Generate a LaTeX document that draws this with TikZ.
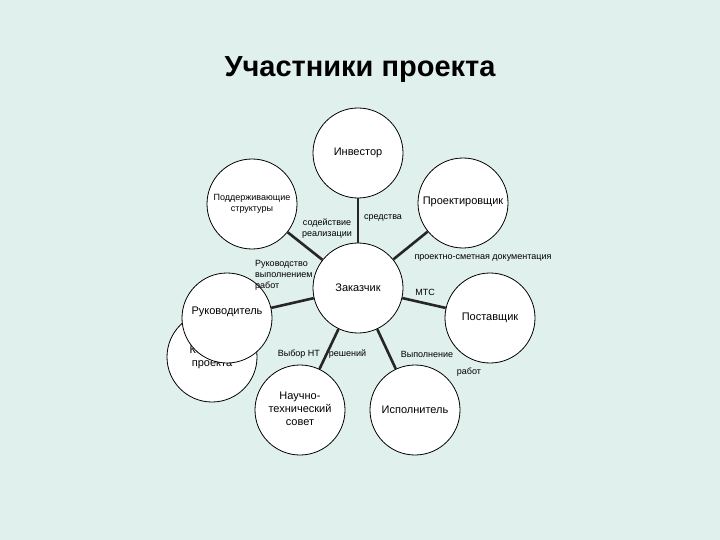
\documentclass[tikz,border=0pt]{standalone}
\usepackage{fontspec}
\setmainfont{Liberation Sans}
\newcommand{\mlines}[1]{\begin{tabular}{@{}c@{}}#1\end{tabular}}
\begin{document}
\begin{tikzpicture}[x=1pt,y=-1pt,
  circ/.style={circle,draw=black,line width=0.8pt,fill=white,minimum size=90pt,inner sep=0pt,align=center,font=\fontsize{11}{13}\selectfont},
  link/.style={line width=2.6pt,draw=black!85},
  lbl/.style={font=\fontsize{9}{11}\selectfont,inner sep=0pt,align=center}]
\fill[fill={rgb,255:red,224;green,240;blue,236}] (0,0) rectangle (720,540);
\useasboundingbox (0,0) rectangle (720,540);
\node[font=\fontsize{29}{34}\selectfont\bfseries] (title) at (360,70) {Участники проекта};
% nodes
\node[circ] (inv) at (358,153) {Инвестор};
\node[circ] (zak) at (358,288) {Заказчик};
\node[circ,font=\fontsize{9}{10.5}\selectfont] (pod) at (252,204) {\raisebox{8pt}{\mlines{Поддерживающие\\структуры}}};
\node[circ] (pro) at (463,203) {\raisebox{4pt}{Проектировщик}};
\node[circ] (kom) at (212,357) {\raisebox{0pt}{\mlines{Команда\\проекта}}};
\node[circ] (ruk) at (227,318) {\raisebox{14pt}{Руководитель}};
\node[circ] (pos) at (490,318) {Поставщик};
\node[circ] (nts) at (300,410) {\raisebox{4pt}{\mlines{Научно-\\технический\\совет}}};
\node[circ] (isp) at (415,410) {Исполнитель};
% links
\draw[link] (inv) -- (zak);
\draw[link] (pod) -- (zak);
\draw[link] (pro) -- (zak);
\draw[link] (ruk) -- (zak);
\draw[link] (pos) -- (zak);
\draw[link] (nts) -- (zak);
\draw[link] (isp) -- (zak);
% labels
\node[lbl] (l1) at (383,218) {средства};
\node[lbl] (l2) at (327,229) {содействие\\реализации};
\node[lbl,align=left,anchor=west] (l3) at (255,275) {Руководство\\выполнением\\работ};
\node[lbl] (l4) at (483,258) {проектно-сметная документация};
\node[lbl] (l5) at (425,292) {МТС};
\node[lbl] (l6) at (322,354) {Выбор НТ\quad решений};
\node[lbl] (l7) at (427,354) {Выполнение};
\node[lbl] (l8) at (469,372) {работ};
\end{tikzpicture}
\end{document}
